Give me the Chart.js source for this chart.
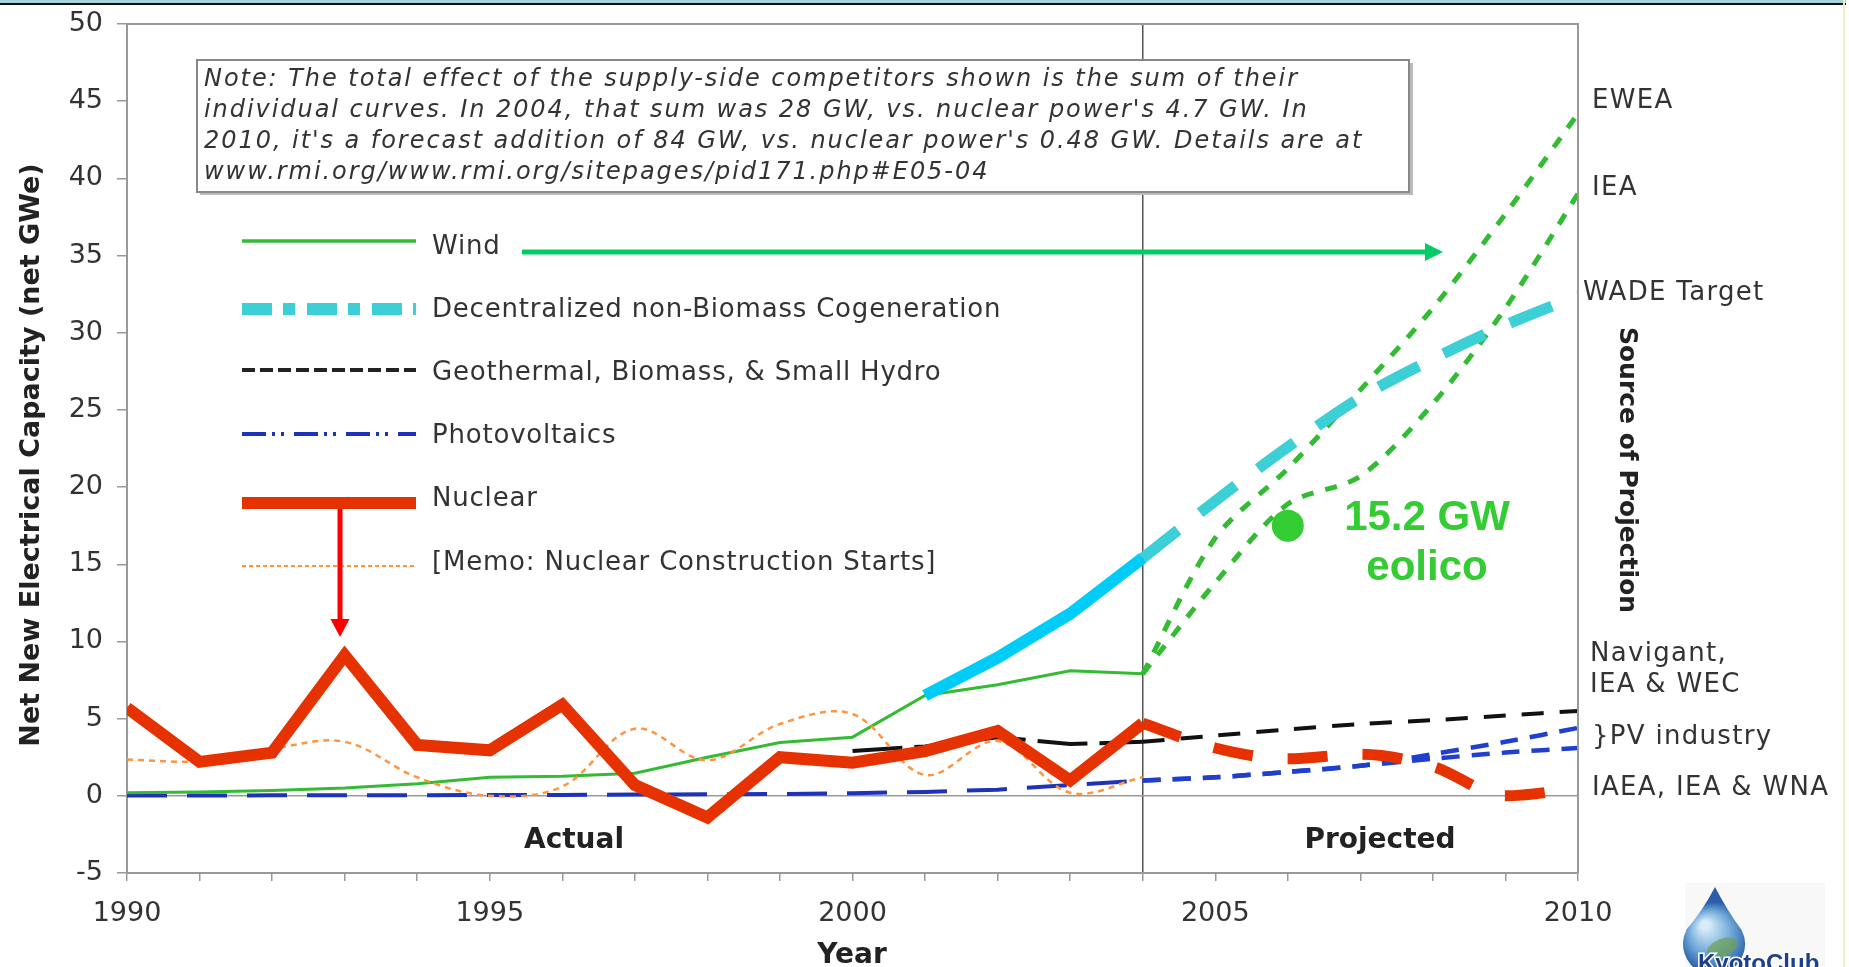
<!DOCTYPE html>
<html>
<head>
<meta charset="utf-8">
<title>Net New Electrical Capacity 1990-2010</title>
<script src="https://cdn.jsdelivr.net/npm/chart.js@4.4.1/dist/chart.umd.min.js"></script>
<style>
  html, body { margin: 0; padding: 0; background: #fff; }
  #wrap { position: relative; width: 1849px; height: 967px; overflow: hidden; }
  #topband { position: absolute; left: 0; top: 0; width: 1846px; height: 3px; background: #a9d3db; border-bottom: 2px solid #111; z-index: 2; }
  #rightline { position: absolute; left: 1843px; top: 0; width: 2px; height: 967px; background: #efefc4; z-index: 2; }
</style>
</head>
<body>
<div id="wrap">
  <div id="topband"></div>
  <div id="rightline"></div>
  <canvas id="capChart"></canvas>
</div>
<script>
'use strict';

/* valori (GWe netti aggiunti per anno) */
const years      = [1990, 1991, 1992, 1993, 1994, 1995, 1996, 1997, 1998, 1999, 2000, 2001, 2002, 2003, 2004];
const windActual = [0.2, 0.25, 0.35, 0.5, 0.78, 1.2, 1.27, 1.46, 2.5, 3.45, 3.8, 6.5, 7.2, 8.1, 7.9];
const nuclearActual = [5.7, 2.2, 2.8, 9.1, 3.3, 2.95, 5.9, 0.7, -1.4, 2.5, 2.15, 2.9, 4.2, 1.0, 4.7];
const memoStarts = [2.35, 2.25, 3.05, 3.5, 1.2, 0.0, 0.6, 4.35, 2.3, 4.65, 5.3, 1.35, 3.55, 0.2, 1.2];
const pvActual   = [0.02, 0.02, 0.03, 0.03, 0.04, 0.05, 0.06, 0.08, 0.1, 0.12, 0.17, 0.25, 0.4, 0.7, 1.0];

const cogenYears  = [2001, 2002, 2003, 2004];
const cogenActual = [6.5, 8.95, 11.8, 15.4];
const geoYears    = [2000, 2001, 2002, 2003, 2004];
const geoActual   = [2.9, 3.2, 3.8, 3.35, 3.5];

/* proiezioni 2004-2010 */
const projYears   = [2004, 2005, 2006, 2007, 2008, 2009, 2010];
const windEWEA    = [7.9, 16.7, 21.2, 26.3, 31.6, 37.7, 44.2];
const windIEA     = [7.9, 13.8, 18.9, 20.7, 25.4, 31.6, 39.0];
const cogenWADE   = [15.4, 19.1, 22.6, 25.8, 28.3, 30.5, 32.4];
const geoProj     = [3.5, 3.9, 4.3, 4.65, 4.9, 5.2, 5.5];
const pvProjHigh  = [1.0, 1.2, 1.55, 1.95, 2.7, 3.5, 4.4];
const pvProjLow   = [1.0, 1.2, 1.55, 1.95, 2.4, 2.8, 3.1];
const nuclearProj = [4.7, 3.1, 2.4, 2.7, 1.9, 0.0, 0.48];

/* punto 15.2 GW eolico */
const markerYear  = [2006];
const markerValue = [17.5];

const yTicks = [-5, 0, 5, 10, 15, 20, 25, 30, 35, 40, 45, 50];

const noteLines = [
  'Note: The total effect of the supply-side competitors shown is the sum of their',
  'individual curves. In 2004, that sum was 28 GW, vs. nuclear power\'s 4.7 GW. In',
  '2010, it\'s a forecast addition of 84 GW, vs. nuclear power\'s 0.48 GW. Details are at',
  'www.rmi.org/www.rmi.org/sitepages/pid171.php#E05-04',
];

const xy = (xs, ys) => xs.map((x, i) => ({ x, y: ys[i] }));

const GREEN  = '#33bb33';
const CYAN   = '#3ccfd5';
const BRIGHT = '#00ccf8';
const RED    = '#e63200';
const BLUE   = '#1f33b8';
const ORANGE = '#ff9440';

function line(label, data, color, width, dash, tension) {
  return {
    label, data,
    borderColor: color, backgroundColor: color,
    borderWidth: width, borderDash: dash || [],
    pointRadius: 0, fill: false, tension: tension || 0,
  };
}

// spaziatura lettere (il font originale e' piu' largo)
function spacing(c, px) {
  if ('letterSpacing' in c) c.letterSpacing = px + 'px';
}

Chart.defaults.font.family = "'DejaVu Sans', Verdana, sans-serif";

/* legenda, nota, frecce e scritte */
const decor = {
  id: 'decor',
  afterDatasetsDraw(chart) {
    const c = chart.ctx, a = chart.chartArea;
    c.save();

    // cornice area grafico (lato alto e destro)
    c.strokeStyle = '#999'; c.lineWidth = 2;
    c.beginPath();
    c.moveTo(a.left, a.top); c.lineTo(a.right, a.top); c.lineTo(a.right, a.bottom);
    c.stroke();

    // riquadro nota
    c.fillStyle = '#bbb';
    c.fillRect(200, 63, 1213, 132);
    c.fillStyle = '#fff';
    c.fillRect(197, 60, 1212, 132);
    c.strokeStyle = '#888'; c.lineWidth = 2;
    c.strokeRect(197, 60, 1212, 132);
    c.fillStyle = '#333';
    c.font = "italic 24px 'DejaVu Sans'";
    c.textBaseline = 'middle'; c.textAlign = 'left';
    spacing(c, 1.95);
    [80, 111, 142, 173].forEach((y, i) => c.fillText(noteLines[i], 204, y));

    // legenda
    const items = [
      { y: 241, t: 'Wind', ty: 247, color: GREEN, w: 3.5, dash: [] },
      { y: 309, t: 'Decentralized non-Biomass Cogeneration', ty: 310, color: CYAN, w: 12, dash: [30, 11, 12, 12] },
      { y: 370, t: 'Geothermal, Biomass, & Small Hydro', ty: 373, color: '#222', w: 4, dash: [13, 5] },
      { y: 434, t: 'Photovoltaics', ty: 436, color: BLUE, w: 4, dash: [24, 6, 3, 6, 3, 10] },
      { y: 503, t: 'Nuclear', ty: 499, color: RED, w: 12, dash: [] },
      { y: 566, t: '[Memo: Nuclear Construction Starts]', ty: 563, color: ORANGE, w: 2, dash: [4, 3] },
    ];
    c.font = "26px 'DejaVu Sans'";
    spacing(c, 0.8);
    items.forEach(it => {
      c.save();
      c.strokeStyle = it.color; c.lineWidth = it.w; c.setLineDash(it.dash);
      c.beginPath(); c.moveTo(242, it.y); c.lineTo(416, it.y); c.stroke();
      c.restore();
      c.fillStyle = '#333';
      c.fillText(it.t, 432, it.ty);
    });
    spacing(c, 0);

    // freccia verde
    c.strokeStyle = '#00cc66'; c.fillStyle = '#00cc66'; c.lineWidth = 5;
    c.beginPath(); c.moveTo(522, 252); c.lineTo(1428, 252); c.stroke();
    c.beginPath(); c.moveTo(1443, 252); c.lineTo(1425, 243); c.lineTo(1425, 261); c.closePath(); c.fill();

    // freccia rossa
    c.strokeStyle = '#ff0000'; c.fillStyle = '#ff0000';
    c.beginPath(); c.moveTo(340, 509); c.lineTo(340, 622); c.stroke();
    c.beginPath(); c.moveTo(340, 637); c.lineTo(330.5, 619); c.lineTo(349.5, 619); c.closePath(); c.fill();

    // 15.2 GW eolico
    c.fillStyle = '#33cc33';
    c.font = "bold 42px 'Liberation Sans', Arial, sans-serif";
    c.textAlign = 'center'; c.textBaseline = 'alphabetic';
    c.fillText('15.2 GW', 1427, 530);
    c.fillText('eolico', 1427, 580);

    // Actual / Projected
    c.fillStyle = '#222';
    c.font = "bold 28px 'DejaVu Sans'";
    c.textBaseline = 'middle';
    c.fillText('Actual', 574, 841);
    c.fillText('Projected', 1380, 841);

    // titoli assi
    c.fillText('Year', 852, 956);
    c.save();
    c.translate(32, 455); c.rotate(-Math.PI / 2);
    c.font = "bold 27px 'DejaVu Sans'";
    c.fillText('Net New Electrical Capacity (net GWe)', 0, 0);
    c.restore();

    c.save();
    c.translate(1626, 470); c.rotate(Math.PI / 2);
    c.font = "bold 25px 'DejaVu Sans'";
    c.fillText('Source of Projection', 0, 0);
    c.restore();

    // fonti delle proiezioni
    c.fillStyle = '#333';
    c.font = "26px 'DejaVu Sans'";
    c.textAlign = 'left';
    spacing(c, 1.3);
    c.fillText('EWEA', 1592, 101);
    c.fillText('IEA', 1592, 188);
    c.fillText('WADE Target', 1583, 293);
    c.fillText('Navigant,', 1590, 654);
    c.fillText('IEA & WEC', 1590, 685);
    c.fillText('}PV industry', 1592, 737);
    c.fillText('IAEA, IEA & WNA', 1592, 788);
    spacing(c, 0);

    // logo Kyoto Club
    c.fillStyle = '#f8f8f8';
    c.fillRect(1685, 883, 140, 84);
    const g = c.createRadialGradient(1705, 925, 4, 1714, 938, 36);
    g.addColorStop(0, '#d8ecf8'); g.addColorStop(0.55, '#6ea8d8'); g.addColorStop(1, '#2a5ea8');
    c.fillStyle = g;
    c.beginPath();
    c.moveTo(1715, 887);
    c.quadraticCurveTo(1702, 912, 1686, 930);
    c.arc(1714, 944, 31, Math.PI * 1.15, Math.PI * 1.85, true);
    c.quadraticCurveTo(1728, 912, 1715, 887);
    c.fill();
    c.fillStyle = 'rgba(110,160,80,0.7)';
    c.beginPath(); c.ellipse(1722, 948, 16, 9, -0.4, 0, Math.PI * 2); c.fill();
    c.font = "bold 24px 'Liberation Sans', Arial, sans-serif";
    c.textAlign = 'left'; c.textBaseline = 'alphabetic';
    c.lineWidth = 3; c.strokeStyle = '#fff';
    c.strokeText('KyotoClub', 1698, 971);
    c.fillStyle = '#1d3f8c';
    c.fillText('KyotoClub', 1698, 971);

    c.restore();
  },
};

new Chart(document.getElementById('capChart').getContext('2d'), {
  type: 'line',
  data: {
    datasets: [
      {
        label: '15.2 GW eolico',
        data: xy(markerYear, markerValue),
        showLine: false, pointRadius: 16, pointHoverRadius: 16,
        pointBackgroundColor: '#33cc33', pointBorderWidth: 0,
      },
      line('Nuclear', xy(years, nuclearActual), RED, 12),
      Object.assign(line('Nuclear (IAEA, IEA & WNA)', xy(projYears, nuclearProj), RED, 11, [40, 35]),
        { cubicInterpolationMode: 'monotone' }),
      line('Memo: Nuclear Construction Starts', xy(years, memoStarts), ORANGE, 2.5, [6, 5], 0.35),
      line('Decentralized non-Biomass Cogeneration', xy(cogenYears, cogenActual), BRIGHT, 12),
      line('Cogeneration (WADE Target)', xy(projYears, cogenWADE), CYAN, 11, [45, 28], 0.3),
      line('Wind', xy(years, windActual), GREEN, 3),
      line('Wind (EWEA)', xy(projYears, windEWEA), GREEN, 5, [12, 12], 0.3),
      line('Wind (IEA)', xy(projYears, windIEA), GREEN, 5, [12, 12], 0.3),
      line('Geothermal, Biomass, & Small Hydro', xy(geoYears, geoActual), '#111', 4, [50, 12]),
      line('Geothermal (Navigant, IEA & WEC)', xy(projYears, geoProj), '#111', 4, [22, 16], 0.3),
      line('Photovoltaics', xy(years, pvActual), BLUE, 4, [40, 20]),
      line('PV industry (high)', xy(projYears, pvProjHigh), '#1f3fcc', 4.5, [18, 12], 0.3),
      line('PV industry (low)', xy(projYears, pvProjLow), '#1f3fcc', 4.5, [18, 12], 0.3),
    ],
  },
  options: {
    responsive: true, maintainAspectRatio: false,
    animation: false,
    events: [],
    layout: { padding: { top: 24, right: 271, left: 0, bottom: 0 } },
    plugins: {
      legend:  { display: false },
      tooltip: { enabled: false },
    },
    scales: {
      x: {
        type: 'linear', min: 1990, max: 2010,
        afterFit: s => { s.height = 94; },
        border: { color: '#999', width: 2 },
        grid: {
          color: ctx => ctx.tick && ctx.tick.value === 2004 ? '#555' : 'rgba(0,0,0,0)',
          lineWidth: 1.5, tickColor: '#999', tickLength: 8,
        },
        ticks: {
          stepSize: 1, autoSkip: false, maxTicksLimit: 30, maxRotation: 0, padding: 17,
          font: { size: 27 }, color: '#333',
          callback: v => v % 5 === 0 ? String(v) : '',
        },
      },
      y: {
        min: yTicks[0], max: yTicks[yTicks.length - 1],
        afterFit: s => { s.width = 127; s.paddingTop = 0; s.paddingBottom = 0; },
        afterBuildTicks: s => { s.ticks = yTicks.map(v => ({ value: v })); },
        border: { color: '#999', width: 2 },
        grid: {
          color: ctx => ctx.tick && ctx.tick.value === 0 ? '#999' : 'rgba(0,0,0,0)',
          lineWidth: 1.5, tickColor: '#999', tickLength: 10,
        },
        ticks: { padding: 14, font: { size: 27 }, color: '#333' },
      },
    },
  },
  plugins: [decor],
});
</script>
</body>
</html>
